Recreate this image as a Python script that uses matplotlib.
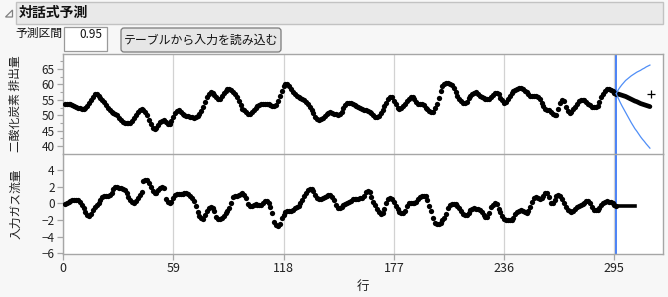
import numpy as np
import matplotlib
matplotlib.use("Agg")
import matplotlib.pyplot as plt
from matplotlib.patches import Rectangle, FancyBboxPatch, Polygon

plt.rcParams['font.family'] = ['Noto Sans CJK JP', 'DejaVu Sans']

# DATA
co2 = [53.8, 53.6, 53.5, 53.5, 53.4, 53.1, 52.7, 52.4, 52.2, 52.0,
       52.0, 52.4, 53.0, 54.0, 54.9, 56.0, 56.8, 56.8, 56.4, 55.7,
       55.0, 54.3, 53.2, 52.3, 51.6, 51.2, 50.8, 50.5, 50.0, 49.2,
       48.4, 47.9, 47.6, 47.5, 47.5, 47.6, 48.1, 49.0, 50.0, 51.1,
       51.8, 51.9, 51.7, 51.2, 50.0, 48.3, 47.0, 45.8, 45.6, 46.0,
       46.9, 47.8, 48.2, 48.3, 47.9, 47.2, 47.2, 48.1, 49.4, 50.6,
       51.5, 51.6, 51.2, 50.5, 50.1, 49.8, 49.6, 49.4, 49.3, 49.2,
       49.3, 49.7, 50.3, 51.3, 52.8, 54.4, 56.0, 56.9, 57.5, 57.3,
       56.6, 56.0, 55.4, 55.4, 56.4, 57.2, 58.0, 58.4, 58.4, 58.1,
       57.7, 57.0, 56.0, 54.7, 53.2, 52.1, 51.6, 51.0, 50.5, 50.4,
       51.0, 51.8, 52.4, 53.0, 53.4, 53.6, 53.7, 53.8, 53.8, 53.8,
       53.3, 53.0, 52.9, 53.4, 54.6, 56.4, 58.0, 59.4, 60.2, 60.0,
       59.4, 58.4, 57.6, 56.9, 56.4, 56.0, 55.7, 55.3, 55.0, 54.4,
       53.7, 52.8, 51.6, 50.6, 49.4, 48.8, 48.5, 48.7, 49.2, 49.8,
       50.4, 50.7, 50.9, 50.7, 50.5, 50.4, 50.2, 50.4, 51.2, 52.3,
       53.2, 53.9, 54.1, 54.0, 53.6, 53.2, 53.0, 52.8, 52.3, 51.9,
       51.6, 51.6, 51.4, 51.2, 50.7, 50.0, 49.4, 49.3, 49.7, 50.6,
       51.8, 53.0, 54.0, 55.3, 55.9, 55.9, 54.6, 53.5, 52.4, 52.1,
       52.3, 53.0, 53.8, 54.6, 55.4, 55.9, 55.9, 55.2, 54.4, 53.7,
       53.6, 53.6, 53.2, 52.5, 52.0, 51.4, 51.0, 50.9, 52.4, 53.5,
       55.6, 58.0, 59.5, 60.0, 60.4, 60.5, 60.2, 59.7, 59.0, 57.6,
       56.4, 55.2, 54.5, 54.1, 54.1, 54.4, 55.5, 56.2, 57.0, 57.3,
       57.4, 57.0, 56.4, 55.9, 55.5, 55.3, 55.2, 55.4, 56.0, 56.5,
       57.1, 57.3, 56.8, 55.6, 55.0, 54.1, 54.3, 55.3, 56.4, 57.2,
       57.8, 58.3, 58.6, 58.8, 58.8, 58.6, 58.0, 57.4, 57.0, 56.4,
       56.3, 56.4, 56.4, 56.0, 55.2, 54.0, 53.0, 52.0, 51.6, 51.6,
       51.1, 50.4, 50.0, 50.0, 52.0, 54.0, 55.1, 54.5, 52.8, 51.4,
       50.8, 51.2, 52.0, 52.8, 53.8, 54.5, 54.9, 54.9, 54.8, 54.4,
       53.7, 53.3, 52.8, 52.6, 52.6, 53.0, 54.3, 56.0, 57.0, 58.0,
       58.6, 58.5, 58.3, 57.8, 57.3, 57.0]

gas = [-0.109, 0.000, 0.178, 0.339, 0.373, 0.441, 0.461, 0.348, 0.127, -0.180,
       -0.588, -1.055, -1.421, -1.520, -1.302, -0.814, -0.475, -0.193, 0.088, 0.435,
       0.771, 0.866, 0.875, 0.891, 0.987, 1.263, 1.775, 1.976, 1.934, 1.866,
       1.832, 1.767, 1.608, 1.265, 0.790, 0.360, 0.115, 0.088, 0.331, 0.645,
       0.960, 1.409, 2.670, 2.834, 2.812, 2.483, 1.929, 1.485, 1.214, 1.239,
       1.608, 1.905, 2.023, 1.815, 0.535, 0.122, 0.009, 0.164, 0.671, 1.019,
       1.146, 1.155, 1.112, 1.121, 1.223, 1.257, 1.157, 0.913, 0.620, 0.255,
       -0.280, -1.080, -1.551, -1.799, -1.825, -1.456, -0.944, -0.570, -0.431, -0.577,
       -0.960, -1.616, -1.875, -1.891, -1.746, -1.474, -1.201, -0.927, -0.524, 0.040,
       0.788, 0.943, 0.930, 1.006, 1.137, 1.198, 1.054, 0.595, -0.080, -0.314,
       -0.288, -0.153, -0.109, -0.187, -0.255, -0.229, -0.007, 0.254, 0.330, 0.102,
       -0.423, -1.139, -2.275, -2.594, -2.716, -2.510, -1.790, -1.346, -1.081, -0.910,
       -0.876, -0.885, -0.800, -0.544, -0.416, -0.271, 0.000, 0.403, 0.841, 1.285,
       1.607, 1.746, 1.683, 1.485, 0.993, 0.648, 0.577, 0.577, 0.632, 0.747,
       0.900, 0.993, 0.968, 0.790, 0.399, -0.161, -0.553, -0.603, -0.424, -0.194,
       -0.049, 0.060, 0.161, 0.301, 0.517, 0.566, 0.560, 0.573, 0.592, 0.671,
       0.933, 1.337, 1.460, 1.353, 0.772, 0.218, -0.237, -0.714, -1.099, -1.269,
       -1.175, -0.676, 0.033, 0.556, 0.643, 0.484, 0.109, -0.310, -0.697, -1.047,
       -1.218, -1.183, -0.873, -0.336, 0.063, 0.084, 0.000, 0.001, 0.209, 0.556,
       0.782, 0.858, 0.918, 0.862, 0.416, -0.336, -0.959, -1.813, -2.378, -2.499,
       -2.473, -2.330, -2.053, -1.739, -1.261, -0.569, -0.137, -0.024, -0.050, -0.135,
       -0.276, -0.534, -0.871, -1.243, -1.439, -1.422, -1.175, -0.813, -0.634, -0.582,
       -0.625, -0.713, -0.848, -1.039, -1.346, -1.628, -1.619, -1.149, -0.488, -0.160,
       -0.007, -0.092, -0.620, -1.086, -1.525, -1.858, -2.029, -2.024, -1.961, -1.952,
       -1.794, -1.302, -1.030, -0.918, -0.798, -0.867, -1.047, -1.123, -0.876, -0.395,
       0.185, 0.662, 0.709, 0.605, 0.501, 0.603, 0.943, 1.223, 1.249, 0.824,
       0.102, 0.025, 0.382, 0.922, 1.032, 0.866, 0.527, 0.093, -0.458, -0.748,
       -0.947, -1.029, -0.928, -0.645, -0.424, -0.276, -0.158, -0.033, 0.102, 0.251,
       0.280, 0.000, -0.493, -0.759, -0.824, -0.740, -0.528, -0.204, 0.034, 0.204,
       0.253, 0.195, 0.131, 0.017, -0.182, -0.262]

# JMP row numbers start at 1
rows = np.arange(1, len(co2) + 1)
last_row = 296

# forecast
fc_rows = [296, 297, 298, 299, 300, 301, 302, 303, 304, 305,
           306, 307, 308, 309, 310, 311, 312, 313, 314]
fc_co2 = [57.0, 56.9, 56.7, 56.5, 56.3, 56.1, 55.8, 55.5, 55.2, 54.9,
          54.6, 54.4, 54.1, 53.8, 53.6, 53.4, 53.2, 53.0, 52.8]
fc_halfwidth = [0.0, 1.3, 2.4, 3.4, 4.3, 5.2, 6.0, 6.8, 7.6, 8.3,
                9.0, 9.6, 10.2, 10.8, 11.4, 11.9, 12.5, 13.0, 13.5]
fc_gas_rows = [296, 297, 298, 299, 300, 301, 302, 303, 304, 305, 306]
fc_gas = [-0.26, -0.26, -0.26, -0.26, -0.26, -0.26, -0.26, -0.26, -0.26, -0.26, -0.26]
cross_row, cross_val = 314.7, 56.8

xticks = [0, 59, 118, 177, 236, 295]
title = "対話式予測"
ylabel_top = "二酸化炭素 排出量"
ylabel_bottom = "入力ガス流量"

W, H = 668, 297
fig = plt.figure(figsize=(W / 100, H / 100), dpi=100)
fig.patch.set_facecolor('#f7f7f7')

# background / header drawn in pixel coords
bg = fig.add_axes([0, 0, 1, 1], zorder=0)
bg.set_xlim(0, W)
bg.set_ylim(H, 0)
bg.axis('off')
bg.add_patch(Rectangle((16, 2), 647, 22, facecolor='#e9e9e9', edgecolor='#c2c2c2', lw=1))
bg.add_patch(Polygon([[5.5, 17], [12.5, 17], [12.5, 10]], closed=True,
                     facecolor='none', edgecolor='#808080', lw=0.9))
bg.text(19, 13, title, fontsize=10, fontweight='bold', va='center', ha='left', color='#111111')
bg.text(15, 33.5, "予測区間", fontsize=8.5, va='center', ha='left', color='#111111')
bg.add_patch(Rectangle((64, 27), 43, 24, facecolor='white', edgecolor='#9a9a9a', lw=0.9))
bg.text(102, 34, "0.95", fontsize=8.5, va='center', ha='right', color='#111111')
bg.add_patch(FancyBboxPatch((121, 28), 160, 24, boxstyle="round,pad=0,rounding_size=3",
                            facecolor='#e6e6e6', edgecolor='#7a7a7a', lw=0.9))
bg.text(201, 40, "テーブルから入力を読み込む", fontsize=8.6, va='center', ha='center', color='#111111')
bg.text(363, 286, "行", fontsize=9, va='center', ha='center', color='#222222')

left = 63 / W
width = 600 / W
ax1 = fig.add_axes([left, (H - 154) / H, width, 100 / H], zorder=1)
ax2 = fig.add_axes([left, (H - 254) / H, width, 100 / H], zorder=1)

for ax in (ax1, ax2):
    ax.set_facecolor('white')
    ax.set_xlim(0, 321)
    ax.set_xticks(xticks)
    for x in xticks:
        ax.axvline(x, color='#d2d2d2', lw=0.9, zorder=0)
    for s in ax.spines.values():
        s.set_color('#a6a6a6')
        s.set_linewidth(1)
    ax.tick_params(axis='both', colors='#a6a6a6', labelcolor='#222222',
                   labelsize=8.5, length=4, width=0.9, pad=2)
    ax.tick_params(axis='y', which='minor', colors='#a6a6a6', length=2.5, width=0.8)
    ax.axvline(last_row, color='#2c6df5', lw=1.2, zorder=2)

ax1.tick_params(axis='x', length=0, labelbottom=False)
ax1.spines['bottom'].set_visible(False)

# top panel
ax1.set_ylim(37.4, 69.9)
ax1.set_yticks([40, 45, 50, 55, 60, 65])
ax1.set_yticks([42.5, 47.5, 52.5, 57.5, 62.5, 67.5], minor=True)
ax1.plot(rows, co2, 'o', color='black', ms=3.8, mew=0, zorder=3)
ax1.plot(fc_rows, fc_co2, '-', color='black', lw=3.4, solid_capstyle='round', zorder=3)
ax1.plot(fc_rows, np.array(fc_co2) + np.array(fc_halfwidth), '-', color='#4f8ef7', lw=0.9, zorder=3)
ax1.plot(fc_rows, np.array(fc_co2) - np.array(fc_halfwidth), '-', color='#4f8ef7', lw=0.9, zorder=3)
ax1.plot([cross_row], [cross_val], '+', color='black', ms=6, mew=0.9, zorder=4)
ax1.set_ylabel(ylabel_top, fontsize=8.5, color='#222222')
ax1.yaxis.set_label_coords(-0.068, 0.5)

# bottom panel
ax2.set_ylim(-6.1, 5.95)
ax2.set_yticks([-6, -4, -2, 0, 2, 4])
ax2.plot(rows, gas, 'o', color='black', ms=3.8, mew=0, zorder=3)
ax2.plot(fc_gas_rows, fc_gas, '-', color='black', lw=2.6, zorder=3)
ax2.set_ylabel(ylabel_bottom, fontsize=8.5, color='#222222')
ax2.yaxis.set_label_coords(-0.068, 0.5)
ax2.tick_params(axis='x', labelsize=9)

fig.savefig('out.png', dpi=100, facecolor=fig.get_facecolor())
